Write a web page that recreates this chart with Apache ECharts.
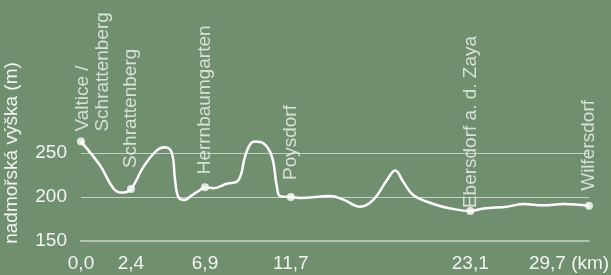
<!DOCTYPE html>
<html>
<head>
<meta charset="utf-8">
<script src="https://cdn.jsdelivr.net/npm/echarts@6/dist/echarts.min.js"></script>
<style>
  html, body { margin: 0; padding: 0; background: #708f6f; }
  #main { width: 611px; height: 275px; }
</style>
</head>
<body>
<div id="main"></div>
<script>
// stanice
const stationNames = ['Valtice /\nSchrattenberg', 'Schrattenberg', 'Herrnbaumgarten', 'Poysdorf', 'Ebersdorf a. d. Zaya', 'Wilfersdorf']
const stationKm = ['0,0', '2,4', '6,9', '11,7', '23,1', '29,7']
const stationPos = [0, 2.92, 7.25, 12.27, 22.76, 29.7]
const stationElev = [263, 209, 211, 200, 184, 190]

// výškový profil
const profilePos = [0, 1.11, 1.89, 2.38, 2.92, 3.64, 4.43, 4.91, 5.31, 5.5, 5.69, 6.03, 6.48, 6.96, 7.25, 7.74, 8.52, 9.2, 9.59, 9.89, 10.18, 10.66, 11.16, 11.45, 11.64, 12.27, 12.81, 14.57, 15.34, 16.32, 17.1, 17.88, 18.37, 18.85, 19.44, 20.61, 21.59, 22.76, 23.53, 24.9, 25.87, 27.04, 28.21, 29.7]
const profileElev = [263, 236, 210, 205, 209, 234, 253, 256.5, 250, 219, 200, 196.5, 202, 208, 211, 210, 215, 219, 246, 260, 263, 261, 246, 212, 201, 200, 199, 201, 197, 189, 197, 219, 230, 217, 202, 192, 187, 184, 187, 189, 192, 190.5, 192, 190]

const elevTicks = [150, 200, 250]

// odsazení popisků od bodu
const labelLift = [6, 17, 9, 13, -1, 11]

const font = 'Liberation Sans'
const textColor = '#f4f4f2'

const profileData = profilePos.map((p, i) => [p, profileElev[i]])
const stationData = stationPos.map((p, i) => {
  const item = {
    value: [p, stationElev[i]],
    name: stationNames[i],
    label: { distance: labelLift[i] }
  }
  // dvouřádkový popisek – první řádek nad bodem
  if (i === 0) item.label.offset = [0, 12]
  return item
})

const chart = echarts.init(document.getElementById('main'))
chart.setOption({
  backgroundColor: '#708f6f',
  animation: false,
  grid: { left: 81, right: 22, top: 65, bottom: 34, outerBoundsMode: 'none' },
  xAxis: {
    type: 'value',
    min: 0,
    max: 29.7,
    axisLine: { show: true, onZero: false, lineStyle: { color: '#b7c1b5', width: 2 } },
    axisTick: { show: false, customValues: stationPos },
    splitLine: { show: false },
    axisLabel: {
      customValues: stationPos,
      color: textColor,
      fontFamily: font,
      fontSize: 19,
      margin: 13,
      formatter: function (v) {
        const i = stationPos.indexOf(v)
        if (i === stationPos.length - 1) return '{end|' + stationKm[i] + ' (km)}'
        return stationKm[i]
      },
      rich: {
        end: { color: textColor, fontFamily: font, fontSize: 19, padding: [0, 40, 0, 0] }
      }
    }
  },
  yAxis: {
    type: 'value',
    min: 150,
    max: 350,
    name: 'nadmořská výška (m)',
    nameLocation: 'middle',
    nameGap: 60,
    nameTextStyle: { color: textColor, fontFamily: font, fontSize: 19 },
    axisLine: { show: false },
    axisTick: { show: false, customValues: elevTicks },
    axisLabel: {
      customValues: elevTicks,
      color: textColor,
      fontFamily: font,
      fontSize: 19,
      margin: 14
    },
    splitLine: { show: true, lineStyle: { color: '#c6cfc4', width: 1 } }
  },
  series: [
    {
      type: 'line',
      data: profileData,
      smooth: 0.4,
      showSymbol: false,
      clip: false,
      lineStyle: { color: '#ffffff', width: 2.5 }
    },
    {
      type: 'scatter',
      data: stationData,
      symbolSize: 8,
      clip: false,
      itemStyle: { color: '#ffffff' },
      label: {
        show: true,
        position: 'top',
        rotate: 90,
        align: 'left',
        verticalAlign: 'middle',
        lineHeight: 20,
        color: textColor,
        fontFamily: font,
        fontSize: 19,
        formatter: p => p.name
      }
    }
  ]
})
</script>
</body>
</html>
